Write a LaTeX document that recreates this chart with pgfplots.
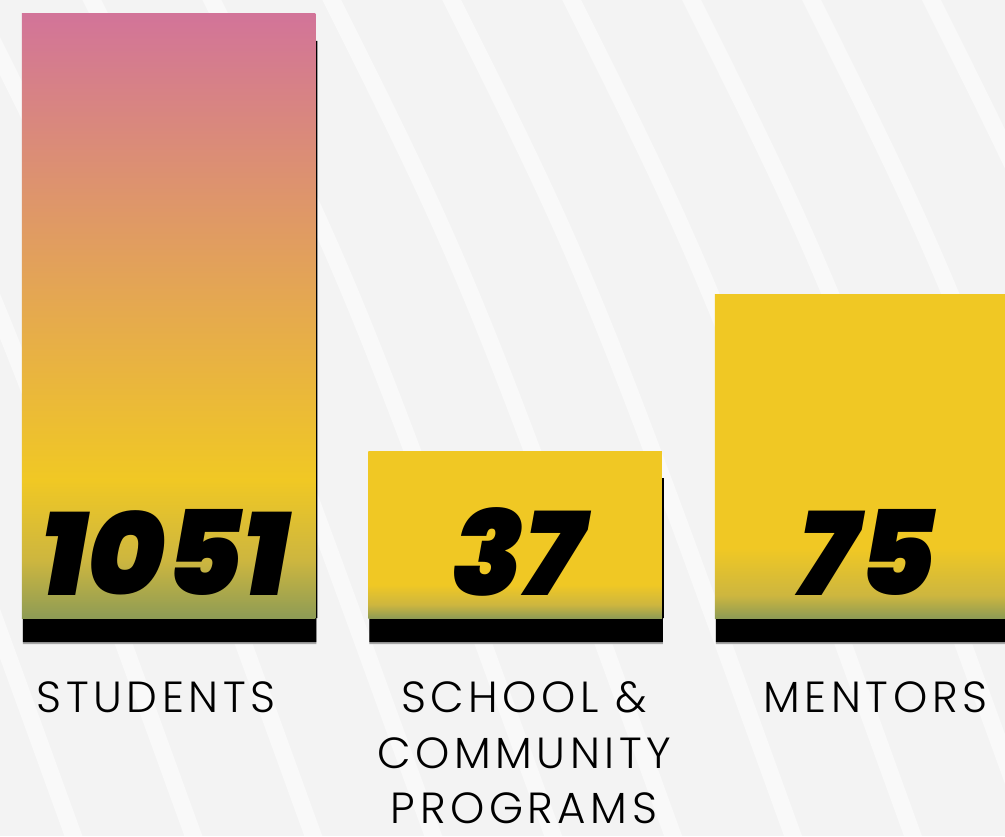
\documentclass[border=0pt]{standalone}
\usepackage{pgfplots}
\pgfplotsset{compat=1.18}
\usepackage{fontspec}
\newfontfamily\numfont{Poppins Black Italic}
\newfontfamily\labfont[LetterSpace=10.5]{Poppins Light}

\definecolor{bg}{HTML}{F3F3F3}
\definecolor{pinktop}{HTML}{D27499}
\definecolor{yel}{HTML}{F0C824}
\definecolor{gmid}{HTML}{CDB63F}
\definecolor{gbot}{HTML}{8E9C55}

% bar fills: the path is mapped onto 25bp..75bp
\pgfdeclareverticalshading{studshade}{100bp}{color(0bp)=(gbot); color(25bp)=(gbot); color(29.8bp)=(gmid); color(36.4bp)=(yel); color(75bp)=(pinktop); color(100bp)=(pinktop)}
\pgfdeclareverticalshading{schoolshade}{100bp}{color(0bp)=(gbot); color(25bp)=(gbot); color(29bp)=(gmid); color(35bp)=(yel); color(100bp)=(yel)}
\pgfdeclareverticalshading{mentshade}{100bp}{color(0bp)=(gbot); color(25bp)=(gbot); color(28.5bp)=(gmid); color(35.8bp)=(yel); color(100bp)=(yel)}

\pgfplotstableread{
x      y   lab
-0.010 66  1051
1.008  66  37
2.015  66  75
}\numbers

\begin{document}
\begin{tikzpicture}
\useasboundingbox (0,0) rectangle (10.05,8.36);
\fill[bg] (0,0) rectangle (10.05,8.36);
% background stripes
\begin{scope}
  \clip (0,0) rectangle (10.05,8.36);
  \begin{scope}[x=0.01cm, y=-0.01cm, yshift=8.36cm]
    \foreach \k in {-6,...,6} {
      \pgfmathsetmacro{\xz}{322+120*\k}
      \draw[white, opacity=0.5, line width=0.17cm] (\xz,-20) .. controls (\xz+150,280) .. (\xz+360,860);
    }
  \end{scope}
\end{scope}

\begin{axis}[
  at={(0,0)}, anchor=south west,
  scale only axis, width=10.05cm, height=8.36cm,
  xmin=-0.4863, xmax=2.4141, ymin=-218, ymax=618,
  hide axis, clip=false,
]
  % drop shadow on the right edge
  \addplot[ybar, bar width=2.935cm, bar shift=0.6pt, fill=black, draw=none]
    coordinates {(0,577) (1,140) (2,297)};
  % black plinth
  \addplot[ybar, bar width=2.935cm, bar shift=0.3pt, fill=gray!70, draw=none]
    coordinates {(0,-26) (1,-26) (2,-26)};
  \addplot[ybar, bar width=2.935cm, bar shift=0.3pt, fill=black, draw=none]
    coordinates {(0,-24) (1,-24) (2,-24)};
  % bars
  \addplot[ybar, bar width=2.935cm, draw=none, shade, shading=studshade]
    coordinates {(0,604)};
  \addplot[ybar, bar width=2.935cm, draw=none, shade, shading=schoolshade]
    coordinates {(1,167)};
  \addplot[ybar, bar width=2.935cm, draw=none, shade, shading=mentshade]
    coordinates {(2,324)};
  % values
  \addplot[draw=none, mark=none, nodes near coords, point meta=explicit symbolic,
    nodes near coords style={anchor=center, inner sep=0pt, text=black,
      font=\numfont\fontsize{33.5}{33.5}\selectfont}]
    table[x=x, y=y, meta=lab] {\numbers};
  % category names
  \begin{scope}[every node/.style={anchor=base, inner sep=0pt, text=black,
      font=\labfont\fontsize{12.4}{15}\selectfont}]
    \node at (axis cs:-0.036,-94) {STUDENTS};
    \node at (axis cs:1.026,-94) {SCHOOL \&};
    \node at (axis cs:1.026,-150) {COMMUNITY};
    \node at (axis cs:1.026,-205) {PROGRAMS};
    \node at (axis cs:2.040,-94) {MENTORS};
  \end{scope}
\end{axis}
\end{tikzpicture}
\end{document}
